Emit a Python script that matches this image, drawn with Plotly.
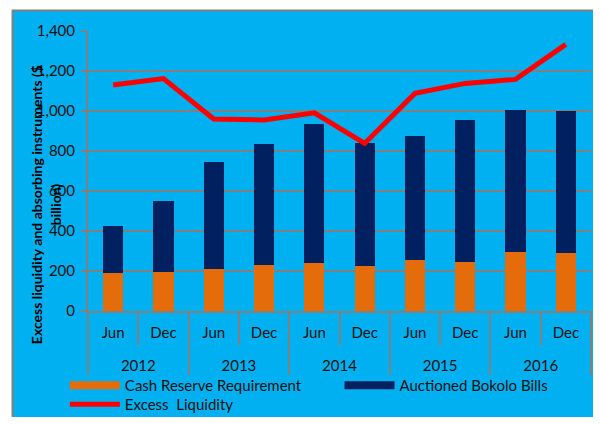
import plotly.graph_objects as go

# Data ($ billion)
years = ["2012", "2012", "2013", "2013", "2014", "2014", "2015", "2015", "2016", "2016"]
months = ["Jun", "Dec", "Jun", "Dec", "Jun", "Dec", "Jun", "Dec", "Jun", "Dec"]
cash_reserve = [188, 197, 208, 232, 238, 227, 257, 243, 293, 288]
bokolo_bills = [238, 353, 535, 601, 698, 611, 620, 710, 710, 712]
excess_liquidity = [1130, 1162, 960, 955, 991, 838, 1088, 1138, 1158, 1333]

# Styling
bg_blue = "#00B0F0"
navy = "#002060"
orange = "#E46C0A"
grey = "#808080"
font_family = "Lato, 'Noto Sans', sans-serif"
text_color = "#111111"

# an empty second line under each month pushes the year row down, like Excel
month_labels = [m + "<br>&nbsp;" for m in months]
x = [years, month_labels]

fig = go.Figure()

fig.add_trace(go.Bar(
    x=x, y=cash_reserve, name="Cash Reserve Requirement",
    marker=dict(color=orange, line=dict(width=0)), showlegend=False,
))
fig.add_trace(go.Bar(
    x=x, y=bokolo_bills, name="Auctioned Bokolo Bills",
    marker=dict(color=navy, line=dict(width=0)), showlegend=False,
))
fig.add_trace(go.Scatter(
    x=x, y=excess_liquidity, name="Excess&nbsp; Liquidity", mode="lines",
    line=dict(color="#FF0000", width=5), legend="legend3",
))

# legend-only entries so the bar keys are wide blocks like in Excel
fig.add_trace(go.Scatter(
    x=[None], y=[None], mode="lines", name="Cash Reserve Requirement",
    line=dict(color=orange, width=8), legend="legend",
))
fig.add_trace(go.Scatter(
    x=[None], y=[None], mode="lines", name="Auctioned Bokolo Bills",
    line=dict(color=navy, width=8), legend="legend2",
))

# Blue chart-area box with grey border (the page behind is white)
fig.add_shape(
    type="rect", xref="paper", yref="paper", layer="below",
    x0=-0.150, x1=1.05, y0=-0.45, y1=1.073,
    fillcolor=bg_blue, line=dict(color=grey, width=2),
)

# Wrapped, rotated y-axis title
fig.add_annotation(
    text="Excess liquidity and absorbing instruments ($<br>billion)",
    xref="paper", yref="paper", x=-0.083, y=0.379,
    xanchor="center", yanchor="middle", textangle=-90, showarrow=False,
    font=dict(family=font_family, size=14, color="black", weight="bold"),
)

legend_style = dict(
    orientation="v", yanchor="top", xanchor="left", traceorder="normal",
    bgcolor="rgba(0,0,0,0)", itemwidth=50,
    font=dict(size=15, color=text_color),
)

# the page body has an 8px margin, so the figure is shrunk to fit the window
fig.update_layout(
    width=593, height=409,
    margin=dict(l=80, r=10, t=23, b=106, autoexpand=False),
    paper_bgcolor="white",
    plot_bgcolor=bg_blue,
    barmode="stack",
    bargap=0.6,
    font=dict(family=font_family, size=15, color=text_color),
    showlegend=True,
    legend=dict(x=-0.046, y=-0.207, **legend_style),
    legend2=dict(x=0.5, y=-0.207, **legend_style),
    legend3=dict(x=-0.046, y=-0.275, **legend_style),
)

fig.update_yaxes(
    range=[0, 1400], dtick=200, tickformat=",",
    showgrid=True, gridcolor=grey, gridwidth=2,
    showline=True, linecolor=grey, linewidth=2,
    ticks="outside", ticklen=5, tickcolor=grey, tickwidth=2,
    ticklabelstandoff=3,
    zeroline=False, automargin=False,
    tickfont=dict(size=15, color=text_color),
)

fig.update_xaxes(
    type="multicategory",
    showline=True, linecolor=grey, linewidth=2,
    ticks="outside", tickson="boundaries", ticklen=32, tickcolor=grey, tickwidth=2,
    ticklabelstandoff=7,
    showdividers=True, dividercolor=grey, dividerwidth=2,
    showgrid=False, automargin=False,
    tickfont=dict(size=15, color=text_color),
)

fig.write_html("out.html")
